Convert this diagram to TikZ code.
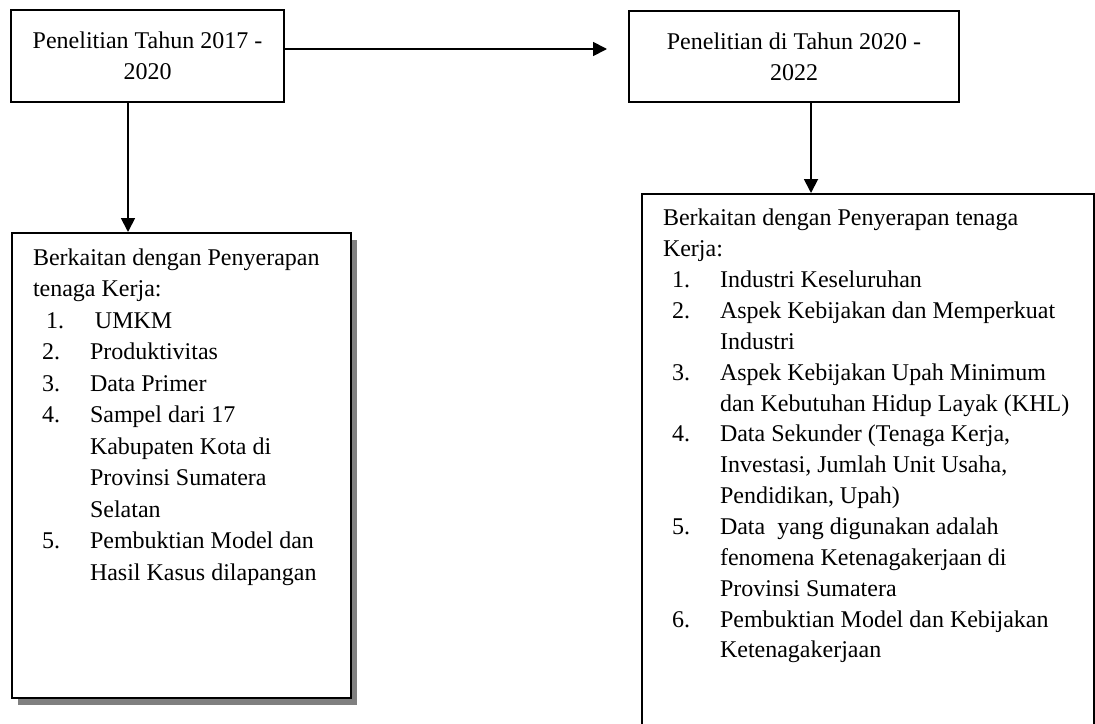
\documentclass[tikz,border=0pt]{standalone}
\usepackage{fontspec}
\setmainfont{Liberation Serif}
\usetikzlibrary{arrows.meta,shadows}

\tikzstyle{yearbox}=[draw,line width=1pt,align=center,inner sep=0pt,font=\fontsize{12}{15.5}\selectfont]
\tikzstyle{listbox}=[draw,line width=1pt,fill=white,inner xsep=10.5pt,inner ysep=5.15pt,anchor=north west]
\tikzstyle{edge}=[draw,line width=0.9pt]

\newcommand{\itm}[2]{\par\noindent\makebox[28.5pt][l]{\hspace*{4.5pt}#1}\mbox{#2}}
\newcommand{\cnt}[1]{\par\noindent\hspace*{28.5pt}\mbox{#1}}
\newcommand{\lne}[1]{\par\noindent\mbox{\strut#1}}

\begin{document}
\begin{tikzpicture}[x=0.5pt, y=-0.5pt, ->, >={Triangle[length=7pt,width=7pt]}]
			\useasboundingbox (0,0) rectangle (1095,723);
			\node [yearbox,minimum width=136.5pt,minimum height=46pt] (y1720) at (147.5,56) {Penelitian Tahun 2017 -\\2020};
			\node [yearbox,minimum width=165pt,minimum height=45.5pt] (y2022) at (794,56.5) {Penelitian di Tahun 2020 -\\2022};
			\node [listbox,drop shadow={shadow xshift=3pt,shadow yshift=-3.5pt,fill=black!50,opacity=1}] (old) at (11,232) {%
				\begin{minipage}[t][222.3pt][t]{148.5pt}\fontsize{12}{15.75}\selectfont
				\lne{Berkaitan dengan Penyerapan}
				\lne{tenaga Kerja:}
				\itm{\hspace*{2pt}1.}{\hspace*{2.5pt}UMKM}
				\itm{2.}{Produktivitas}
				\itm{3.}{Data Primer}
				\itm{4.}{Sampel dari 17}
				\cnt{Kabupaten Kota di}
				\cnt{Provinsi Sumatera}
				\cnt{Selatan}
				\itm{5.}{Pembuktian Model dan}
				\cnt{Hasil Kasus dilapangan}
				\end{minipage}};
			\node [listbox] (new) at (641,193) {%
				\begin{minipage}[t][273.3pt][t]{205pt}\fontsize{12}{15.43}\selectfont
				\lne{Berkaitan dengan Penyerapan tenaga}
				\lne{Kerja:}
				\itm{1.}{Industri Keseluruhan}
				\itm{2.}{Aspek Kebijakan dan Memperkuat}
				\cnt{Industri}
				\itm{3.}{Aspek Kebijakan Upah Minimum}
				\cnt{dan Kebutuhan Hidup Layak (KHL)}
				\itm{4.}{Data Sekunder (Tenaga Kerja,}
				\cnt{Investasi, Jumlah Unit Usaha,}
				\cnt{Pendidikan, Upah)}
				\itm{5.}{Data\ \ yang digunakan adalah}
				\cnt{fenomena Ketenagakerjaan di}
				\cnt{Provinsi Sumatera}
				\itm{6.}{Pembuktian Model dan Kebijakan}
				\cnt{Ketenagakerjaan}
				\end{minipage}};
			\coordinate (tip) at (607,49);

			\draw [edge] (y1720.east |- tip) -- (tip);
			\draw [edge] (y1720.south -| 128,0) -- (old.north -| 128,0);
			\draw [edge] (y2022.south -| 811,0) -- (new.north -| 811,0);
\end{tikzpicture}
\end{document}
